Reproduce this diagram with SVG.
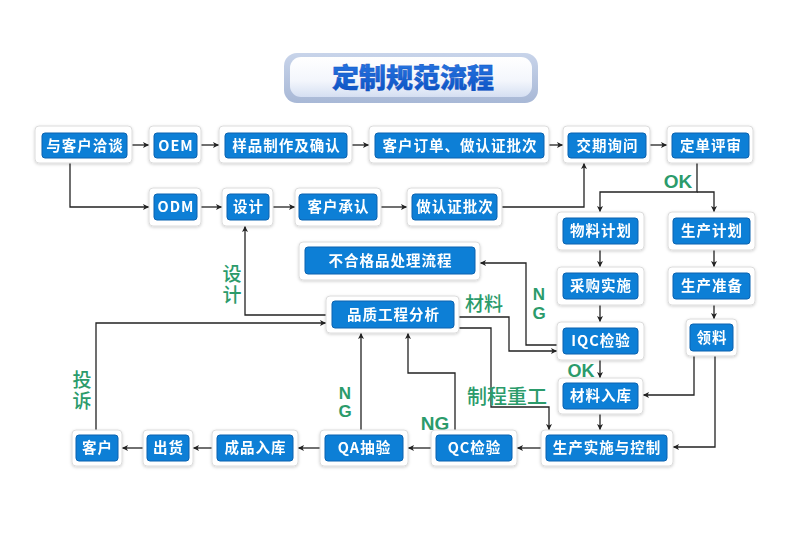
<svg xmlns="http://www.w3.org/2000/svg" width="790" height="539" viewBox="0 0 790 539">
<defs>
<style>
.fr{fill:#fff;stroke:#dcdcdc;stroke-width:1}
.in{fill:#0b7fd6;stroke:#0862b0;stroke-width:1}
.t{font-family:"Noto Sans CJK SC","Liberation Sans",sans-serif;font-weight:700;font-size:14.5px;fill:#fff;text-anchor:middle;letter-spacing:1px}
.c{fill:none;stroke:#222;stroke-width:1.3}
.g{font-family:"Noto Sans CJK SC","Liberation Sans",sans-serif;font-weight:500;fill:#2b9b6b;text-anchor:middle}
.gb{font-family:"Liberation Sans","Noto Sans CJK SC",sans-serif;font-weight:700;fill:#2b9b6b;text-anchor:middle}
.v{writing-mode:vertical-rl;text-orientation:upright;text-anchor:start}
</style>
<filter id="sh" x="-20%" y="-20%" width="140%" height="150%">
<feDropShadow dx="0" dy="1" stdDeviation="1.5" flood-color="#000" flood-opacity="0.18"/>
</filter>
<marker id="ar" viewBox="0 0 8 8" refX="8" refY="4" markerWidth="6" markerHeight="6" orient="auto" markerUnits="userSpaceOnUse">
<path d="M0,0 L8,4 L0,8 L2,4 Z" fill="#222"/>
</marker>
<linearGradient id="tgo" x1="0" y1="0" x2="0" y2="1">
<stop offset="0" stop-color="#c8d4ea"/>
<stop offset="1" stop-color="#a8b8d6"/>
</linearGradient>
<linearGradient id="tgi" x1="0" y1="0" x2="0" y2="1">
<stop offset="0" stop-color="#ffffff"/>
<stop offset="0.6" stop-color="#f3f6fc"/>
<stop offset="1" stop-color="#d5dff2"/>
</linearGradient>
<linearGradient id="tgt" x1="0" y1="0" x2="0" y2="1">
<stop offset="0" stop-color="#2a7ae6"/>
<stop offset="1" stop-color="#0a4fc0"/>
</linearGradient>
</defs>
<rect width="790" height="539" fill="#fff"/>

<g id="title">
<rect x="284" y="53" width="254" height="50" rx="13" fill="url(#tgo)"/>
<rect x="290" y="57" width="242" height="40" rx="11" fill="url(#tgi)"/>
<text x="413" y="88" font-family="Noto Sans CJK SC,sans-serif" font-weight="900" font-size="27" fill="url(#tgt)" text-anchor="middle" stroke="#0a4fc0" stroke-width="0.4">定制规范流程</text>
</g>

<g id="connectors">
<path class="c" marker-end="url(#ar)" d="M132,145 H149"/>
<path class="c" marker-end="url(#ar)" d="M201,145 H219"/>
<path class="c" marker-end="url(#ar)" d="M352,145 H369"/>
<path class="c" marker-end="url(#ar)" d="M549,145 H563"/>
<path class="c" marker-end="url(#ar)" d="M650,145 H667"/>
<path class="c" marker-end="url(#ar)" d="M70,163 V207 H149"/>
<path class="c" marker-end="url(#ar)" d="M201,207 H222"/>
<path class="c" marker-end="url(#ar)" d="M273,207 H295"/>
<path class="c" marker-end="url(#ar)" d="M381,207 H407"/>
<path class="c" marker-end="url(#ar)" d="M502,207 H584 V163"/>
<path class="c" marker-end="url(#ar)" d="M697,163 V192 H600 V212"/>
<path class="c" marker-end="url(#ar)" d="M697,192 H714 V212"/>
<path class="c" marker-end="url(#ar)" d="M600,250 V267"/>
<path class="c" marker-end="url(#ar)" d="M600,305 V322"/>
<path class="c" marker-end="url(#ar)" d="M600,360 V378"/>
<path class="c" marker-end="url(#ar)" d="M600,414 V430"/>
<path class="c" marker-end="url(#ar)" d="M714,250 V267"/>
<path class="c" marker-end="url(#ar)" d="M714,305 V319"/>
<path class="c" marker-end="url(#ar)" d="M694,356 V395 H643"/>
<path class="c" marker-end="url(#ar)" d="M715,356 V447 H673"/>
<path class="c" marker-end="url(#ar)" d="M541,448 H517"/>
<path class="c" marker-end="url(#ar)" d="M431,448 H408"/>
<path class="c" marker-end="url(#ar)" d="M320,448 H298"/>
<path class="c" marker-end="url(#ar)" d="M212,448 H193"/>
<path class="c" marker-end="url(#ar)" d="M143,448 H122"/>
<path class="c" marker-end="url(#ar)" d="M96,430 V323 H326"/>
<path class="c" marker-end="url(#ar)" d="M326,315 H245 V226"/>
<path class="c" marker-end="url(#ar)" d="M361,430 V333"/>
<path class="c" marker-end="url(#ar)" d="M455,430 V373 H408 V333"/>
<path class="c" marker-end="url(#ar)" d="M459,317 H509 V351 H557"/>
<path class="c" marker-end="url(#ar)" d="M459,328 H491 V407 H549 V430"/>
<path class="c" marker-end="url(#ar)" d="M557,345 H526 V263 H480"/>
</g>

<g id="labels">
<text class="gb" x="678" y="188" font-size="19">OK</text>
<text class="gb" x="581" y="377" font-size="18">OK</text>
<text class="g v" x="232" y="264" font-size="19" letter-spacing="2">设计</text>
<text class="g v" x="82" y="370" font-size="19" letter-spacing="2">投诉</text>
<text class="gb v" x="345" y="384" font-size="17" letter-spacing="-1">NG</text>
<text class="gb v" x="539" y="285" font-size="17" letter-spacing="0">NG</text>
<text class="gb" x="435" y="430" font-size="19">NG</text>
<text class="g" x="484" y="311" font-size="19">材料</text>
<text class="g" x="507" y="404" font-size="20">制程重工</text>
</g>

<g filter="url(#sh)">
<g id="n1"><rect class="fr" x="35" y="126" width="97" height="37" rx="4"/><rect class="in" x="42" y="133" width="85" height="25" rx="3"/><text class="t" x="85" y="150.5">与客户洽谈</text></g>
<g id="n2"><rect class="fr" x="149" y="126" width="52" height="37" rx="4"/><rect class="in" x="154" y="133" width="43" height="25" rx="3"/><text class="t" x="176" y="150.5">OEM</text></g>
<g id="n3"><rect class="fr" x="219" y="126" width="133" height="37" rx="4"/><rect class="in" x="225" y="133" width="122" height="25" rx="3"/><text class="t" x="286.5" y="150.5">样品制作及确认</text></g>
<g id="n4"><rect class="fr" x="369" y="126" width="180" height="37" rx="4"/><rect class="in" x="375" y="133" width="169" height="25" rx="3"/><text class="t" x="460" y="150.5">客户订单、做认证批次</text></g>
<g id="n5"><rect class="fr" x="563" y="126" width="87" height="37" rx="4"/><rect class="in" x="568" y="133" width="78" height="25" rx="3"/><text class="t" x="607.5" y="150.5">交期询问</text></g>
<g id="n6"><rect class="fr" x="667" y="126" width="86" height="37" rx="4"/><rect class="in" x="672" y="133" width="77" height="25" rx="3"/><text class="t" x="711" y="150.5">定单评审</text></g>
<g id="n7"><rect class="fr" x="149" y="188" width="52" height="38" rx="4"/><rect class="in" x="154" y="194" width="43" height="26" rx="3"/><text class="t" x="176" y="212">ODM</text></g>
<g id="n8"><rect class="fr" x="222" y="188" width="51" height="38" rx="4"/><rect class="in" x="227" y="194" width="42" height="26" rx="3"/><text class="t" x="248.5" y="212">设计</text></g>
<g id="n9"><rect class="fr" x="295" y="188" width="86" height="38" rx="4"/><rect class="in" x="299" y="194" width="78" height="26" rx="3"/><text class="t" x="338.5" y="212">客户承认</text></g>
<g id="n10"><rect class="fr" x="407" y="188" width="95" height="38" rx="4"/><rect class="in" x="412" y="194" width="85" height="26" rx="3"/><text class="t" x="455" y="212">做认证批次</text></g>
<g id="n11"><rect class="fr" x="557" y="212" width="87" height="38" rx="4"/><rect class="in" x="563" y="218" width="75" height="26" rx="3"/><text class="t" x="601" y="236">物料计划</text></g>
<g id="n12"><rect class="fr" x="557" y="267" width="87" height="38" rx="4"/><rect class="in" x="563" y="273" width="75" height="26" rx="3"/><text class="t" x="601" y="291">采购实施</text></g>
<g id="n13"><rect class="fr" x="557" y="322" width="87" height="38" rx="4"/><rect class="in" x="563" y="328" width="75" height="26" rx="3"/><text class="t" x="601" y="346">IQC检验</text></g>
<g id="n14"><rect class="fr" x="558" y="378" width="85" height="36" rx="4"/><rect class="in" x="563" y="383" width="75" height="26" rx="3"/><text class="t" x="601" y="401">材料入库</text></g>
<g id="n15"><rect class="fr" x="668" y="212" width="87" height="38" rx="4"/><rect class="in" x="673" y="218" width="77" height="26" rx="3"/><text class="t" x="712" y="236">生产计划</text></g>
<g id="n16"><rect class="fr" x="668" y="267" width="87" height="38" rx="4"/><rect class="in" x="673" y="273" width="77" height="26" rx="3"/><text class="t" x="712" y="291">生产准备</text></g>
<g id="n17"><rect class="fr" x="686" y="319" width="51" height="37" rx="4"/><rect class="in" x="690" y="324" width="43" height="27" rx="3"/><text class="t" x="712" y="342.5">领料</text></g>
<g id="n18"><rect class="fr" x="541" y="430" width="132" height="36" rx="4"/><rect class="in" x="546" y="435" width="121" height="26" rx="3"/><text class="t" x="607" y="453">生产实施与控制</text></g>
<g id="n19"><rect class="fr" x="431" y="430" width="86" height="36" rx="4"/><rect class="in" x="436" y="435" width="76" height="26" rx="3"/><text class="t" x="474.5" y="453">QC检验</text></g>
<g id="n20"><rect class="fr" x="320" y="430" width="88" height="36" rx="4"/><rect class="in" x="325" y="435" width="78" height="26" rx="3"/><text class="t" x="364.5" y="453">QA抽验</text></g>
<g id="n21"><rect class="fr" x="212" y="430" width="86" height="36" rx="4"/><rect class="in" x="217" y="435" width="76" height="26" rx="3"/><text class="t" x="255.5" y="453">成品入库</text></g>
<g id="n22"><rect class="fr" x="143" y="430" width="50" height="36" rx="4"/><rect class="in" x="147" y="435" width="42" height="26" rx="3"/><text class="t" x="168.5" y="453">出货</text></g>
<g id="n23"><rect class="fr" x="72" y="430" width="50" height="36" rx="4"/><rect class="in" x="76" y="435" width="42" height="26" rx="3"/><text class="t" x="97.5" y="453">客户</text></g>
<g id="n24"><rect class="fr" x="299" y="242" width="181" height="38" rx="4"/><rect class="in" x="305" y="247" width="170" height="27" rx="3"/><text class="t" x="390.5" y="265.5">不合格品处理流程</text></g>
<g id="n25"><rect class="fr" x="326" y="296" width="133" height="37" rx="4"/><rect class="in" x="332" y="301" width="122" height="27" rx="3"/><text class="t" x="393.5" y="319.5">品质工程分析</text></g>
</g>
</svg>
